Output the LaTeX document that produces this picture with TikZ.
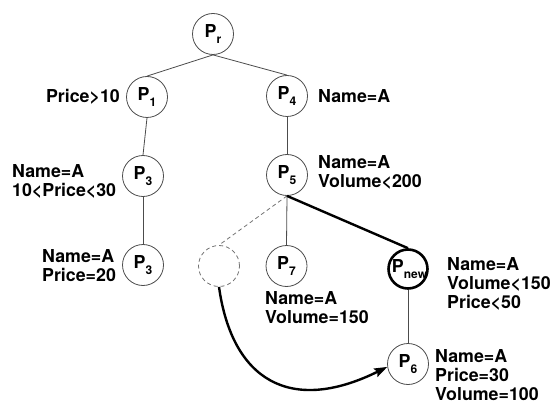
\documentclass[tikz,border=0pt]{standalone}
\usepackage{fontspec}
\setmainfont{TeX Gyre Heros}
\usetikzlibrary{arrows.meta}
% P with a lowered, smaller index
\newcommand\Psub[1]{P\raisebox{-0.32em}{\fontsize{12}{12}\selectfont #1}}
\tikzset{
  txt/.style={font=\bfseries\fontsize{17.8}{19}\selectfont},
  pnode/.style={circle, draw=black!70, line width=0.8pt, minimum size=41pt,
                inner sep=0pt, txt},
  newnode/.style={pnode, draw=black, line width=2.6pt, minimum size=39pt},
  ghost/.style={circle, draw=black!55, line width=0.8pt, dash pattern=on 4pt off 3pt,
                minimum size=41pt, inner sep=0pt},
  lbl/.style={txt, inner sep=0pt, align=left},
  edge/.style={draw=black!70, line width=0.8pt},
  ghostedge/.style={draw=black!55, line width=0.8pt, dash pattern=on 4pt off 3pt},
  boldedge/.style={draw=black, line width=2.4pt},
}
\begin{document}
\begin{tikzpicture}[x=1pt, y=-1pt]
  \path[use as bounding box] (0,0) rectangle (553,403);

  % tree nodes
  \node[pnode] (Pr)   at (213,34)  {\makebox[0pt]{\Psub{r}}};
  \node[pnode] (P1)   at (147,97)  {\makebox[0pt]{\Psub{1}}};
  \node[pnode] (P4)   at (287,96)  {\makebox[0pt]{\Psub{4}}};
  \node[pnode] (P3a)  at (143,176) {\makebox[0pt]{\Psub{3}}};
  \node[pnode] (P5)   at (287,175) {\makebox[0pt]{\Psub{5}}};
  \node[pnode] (P3b)  at (143,265) {\makebox[0pt]{\Psub{3}}};
  \node[ghost] (G)    at (219,266) {};
  \node[pnode] (P7)   at (286.5,266) {\makebox[0pt]{\Psub{7}}};
  \node[newnode] (Pn) at (408,269) {\makebox[0pt]{\hspace{3pt}\Psub{new}}};
  \node[pnode] (P6)   at (408,364) {\makebox[0pt]{\Psub{6}}};

  % predicates beside the nodes
  \node[lbl, anchor=east] (l1)  at (120,97)   {Price>10};
  \node[lbl, anchor=west] (l4)  at (318,96)   {Name=A};
  \node[lbl, anchor=west] (l3a) at (12,181)   {Name=A\\10<Price<30};
  \node[lbl, anchor=west] (l5)  at (318,172)  {Name=A\\Volume<200};
  \node[lbl, anchor=west] (l3b) at (42,266)   {Name=A\\Price=20};
  \node[lbl, anchor=west] (l7)  at (265,307.5){Name=A\\Volume=150};
  \node[lbl, anchor=west] (ln)  at (447,284)  {Name=A\\Volume<150\\Price<50};
  \node[lbl, anchor=west] (l6)  at (435,375)  {Name=A\\Price=30\\Volume=100};

  % tree edges
  \draw[edge] (Pr.south) -- (P1.north);
  \draw[edge] (Pr.south) -- (P4.north);
  \draw[edge] (P1.south) -- (P3a.north);
  \draw[edge] (P4.south) -- (P5.north);
  \draw[edge] (P3a.south) -- (P3b.north);
  \draw[edge] (P5.south) -- (P7.north);
  \draw[ghostedge] (P5.south) -- (G.north);
  \draw[boldedge] (P5.south) -- (Pn.north);
  \draw[edge] (Pn.south) -- (P6.north);

  % relocation of the displaced subtree
  \draw[boldedge, -{Stealth[length=13pt, width=9pt, inset=2pt]}]
    (G.south) .. controls (232,380) and (290,415) .. (P6.188);
\end{tikzpicture}
\end{document}
